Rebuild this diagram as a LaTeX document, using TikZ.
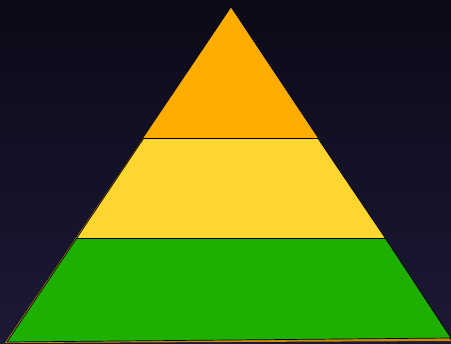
\documentclass[tikz,border=0pt]{standalone}
\usepackage{tikz}
\definecolor{skytop}{HTML}{0B0A17}
\definecolor{skybot}{HTML}{1C1936}
\definecolor{tierorange}{HTML}{FFAD00}
\definecolor{tieryellow}{HTML}{FFD52F}
\definecolor{tiergreen}{HTML}{1DB000}
\tikzset{
  every picture/.style={line join=round, line cap=round},
  tier/.style={draw=black, line width=0.5pt},
}
\begin{document}
\begin{tikzpicture}[x=0.025cm,y=-0.025cm]
\useasboundingbox (0,0) rectangle (451,343);
\shade[top color=skytop,bottom color=skybot] (0,0) rectangle (451,343);
\coordinate (apex) at (231,8);
\coordinate (baseL) at (7,342);
\coordinate (baseR) at (451,338);
\coordinate (midL) at (143.5,138.5);
\coordinate (midR) at (318,138.5);
\coordinate (lowL) at (76.5,238.5);
\coordinate (lowR) at (385.5,238.5);
% faint orange sheet under the tiers
\fill[tierorange!80!black] (apex) -- (5,343) -- (451,341) -- cycle;
\filldraw[tier,fill=tiergreen] (lowL) -- (lowR) -- (baseR) -- (baseL) -- cycle;
\filldraw[tier,fill=tieryellow] (midL) -- (midR) -- (lowR) -- (lowL) -- cycle;
\filldraw[tier,fill=tierorange,draw=none] (apex) -- (midR) -- (midL) -- cycle;
\draw[tier] (midL) -- (midR);
\end{tikzpicture}
\end{document}
